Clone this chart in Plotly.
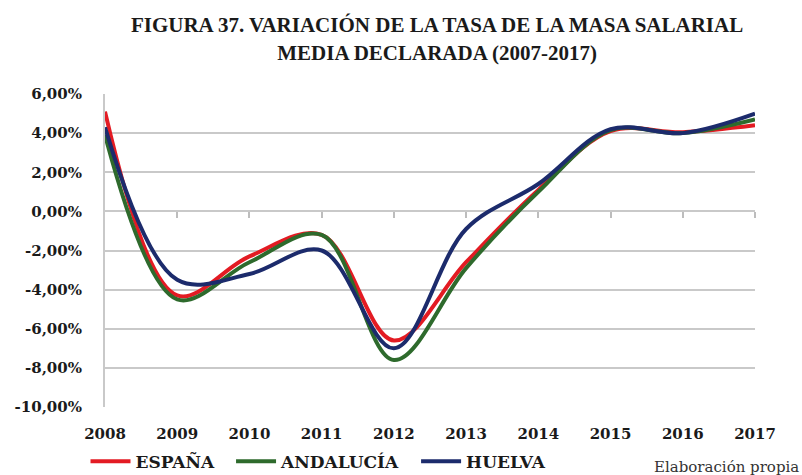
import plotly.graph_objects as go

years = [2008, 2009, 2010, 2011, 2012, 2013, 2014, 2015, 2016, 2017]
espana = [5.1, -4.3, -2.3, -1.2, -6.6, -2.6, 1.1, 4.1, 4.05, 4.4]
andalucia = [3.9, -4.5, -2.6, -1.2, -7.6, -2.9, 1.0, 4.15, 4.0, 4.7]
huelva = [4.3, -3.5, -3.2, -2.0, -7.0, -0.9, 1.4, 4.2, 4.0, 5.0]
yticks = [6, 4, 2, 0, -2, -4, -6, -8, -10]
ytick_text = ["6,00%", "4,00%", "2,00%", "0,00%", "-2,00%", "-4,00%", "-6,00%", "-8,00%", "-10,00%"]
series_names = ["ESPAÑA", "ANDALUCÍA", "HUELVA"]

series = [(series_names[0] + "\u00a0\u00a0", espana, "#e31b23"),
          (series_names[1] + "\u00a0\u00a0", andalucia, "#2e6a2c"),
          (series_names[2], huelva, "#1c2b6c")]

fig = go.Figure()
for name, vals, col in series:
    fig.add_trace(go.Scatter(x=years, y=vals, name=name, mode="lines",
                             line=dict(color=col, width=4, shape="spline", smoothing=1.0)))

# helper invisible trace for the tick axis at y=0
fig.add_trace(go.Scatter(x=years, y=[0] * len(years), xaxis="x2", mode="lines",
                         line=dict(width=0), showlegend=False, hoverinfo="skip"))

font_b = "DejaVu Serif"
fig.update_layout(
    width=802, height=475,
    margin=dict(l=105, r=47, t=94, b=68, autoexpand=False),
    paper_bgcolor="white", plot_bgcolor="white",
    title=dict(text="<b>FIGURA 37. VARIACIÓN DE LA TASA DE LA MASA SALARIAL<br>MEDIA DECLARADA (2007-2017)</b>",
               x=0.545, xanchor="center", y=0.932, yanchor="middle",
               font=dict(family="Liberation Serif", size=21, color="#1a1a1a")),
    xaxis=dict(range=[2008, 2017], tickvals=years, ticktext=[str(y) for y in years],
               showgrid=False, zeroline=False, showline=False, ticks="",
               tickfont=dict(family=font_b, size=15, color="#1a1a1a", weight="bold"), ticklabelstandoff=16),
    xaxis2=dict(range=[2008, 2017], overlaying="x", anchor="free", position=0.625,
                tickvals=years[1:], ticks="outside", ticklen=6, tickwidth=1.5, tickcolor="#bdbdbd",
                showticklabels=False, showgrid=False, zeroline=False, showline=False, side="bottom"),
    yaxis=dict(range=[-10, 6], tickvals=yticks, ticktext=ytick_text,
               showgrid=True, gridcolor="#c9c9c9", gridwidth=2, zeroline=False,
               showline=True, linecolor="#c9c9c9", linewidth=2,
               tickfont=dict(family=font_b, size=15, color="#1a1a1a", weight="bold"), ticklabelstandoff=18),
    legend=dict(orientation="h", x=-0.03, xanchor="left", y=-0.175, yanchor="middle",
                font=dict(family=font_b, size=17, color="#1a1a1a", weight="bold"),
                itemwidth=40, tracegroupgap=0, bgcolor="rgba(0,0,0,0)"),
    showlegend=True,
    annotations=[dict(text="Elaboración propia", xref="paper", yref="paper", x=1.07, y=-0.158,
                      xanchor="right", yanchor="top", showarrow=False,
                      font=dict(family="DejaVu Serif", size=15, color="#333333"))],
)
fig.write_html("out.html", config={"displayModeBar": False},
               post_script="document.body.style.margin='0';")
